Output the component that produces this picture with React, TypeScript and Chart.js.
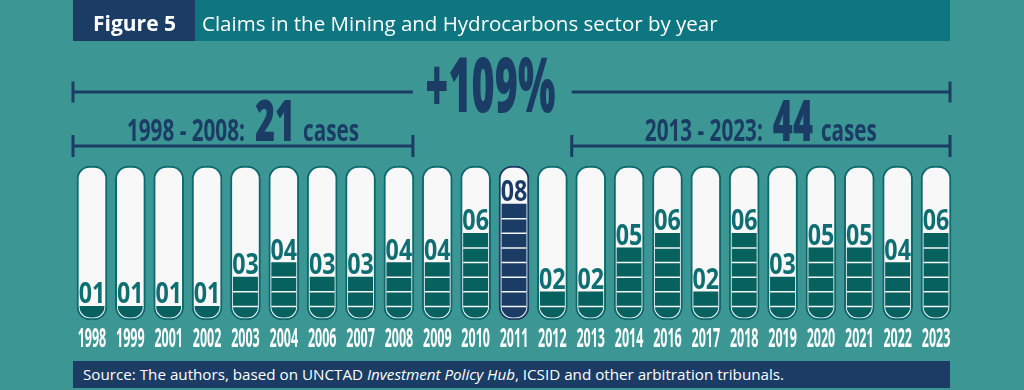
import { useEffect, useRef } from 'react';
import { Chart, registerables } from 'chart.js';

Chart.register(...registerables);

// ---------- data ----------
const YEARS = ['1998', '1999', '2001', '2002', '2003', '2004', '2006', '2007', '2008', '2009', '2010', '2011', '2012', '2013', '2014', '2016', '2017', '2018', '2019', '2020', '2021', '2022', '2023'];
const CLAIMS = [1, 1, 1, 1, 3, 4, 3, 3, 4, 4, 6, 8, 2, 2, 5, 6, 2, 6, 3, 5, 5, 4, 6];
const HIGHLIGHT_YEAR = '2011';
const PERIOD_LABELS = ['1998 - 2008:', '2013 - 2023:'];
const PERIOD_STARTS = ['1998', '2013'];
const PERIOD_ENDS = ['2008', '2023'];
const PERIOD_TOTALS = ['21', '44'];
const CHANGE_LABEL = '+109%';
const TUBE_RANGE: [number, number] = [0.07, 10.6];
const Y_MAX = 10.6;

const FIG_TAG = 'Figure 5';
const FIG_TITLE = 'Claims in the Mining and Hydrocarbons sector by year';

// ---------- styles ----------
const BG = '#3C9694';
const HEADER_TEAL = '#0D7680';
const NAVY = '#1B3D65';
const FILL = '#07615F';
const TUBE_BORDER = '#0C6A6E';
const LABEL_TEAL = '#0E6E72';
const TUBE_WHITE = '#F8F8F8';
const FONT = '"Open Sans", "Noto Sans", sans-serif';

type Run = { text: string; font: string; sx: number; gap?: number };

function drawRuns(ctx: CanvasRenderingContext2D, runs: Run[], cx: number, baseline: number, color: string) {
  const widths: number[] = [];
  let total = 0;
  runs.forEach((r, i) => {
    ctx.font = r.font;
    const w = ctx.measureText(r.text).width * r.sx;
    widths.push(w);
    total += w + (i < runs.length - 1 ? r.gap || 0 : 0);
  });
  let x = cx - total / 2;
  runs.forEach((r, i) => {
    ctx.save();
    ctx.font = r.font;
    ctx.fillStyle = color;
    ctx.textAlign = 'left';
    ctx.textBaseline = 'alphabetic';
    ctx.translate(x, baseline);
    ctx.scale(r.sx, 1);
    ctx.fillText(r.text, 0, 0);
    ctx.restore();
    x += widths[i] + (r.gap || 0);
  });
}

function hLine(ctx: CanvasRenderingContext2D, x1: number, x2: number, y: number) {
  ctx.beginPath();
  ctx.moveTo(x1, y);
  ctx.lineTo(x2, y);
  ctx.stroke();
}
function vTick(ctx: CanvasRenderingContext2D, x: number, y: number, h: number) {
  ctx.beginPath();
  ctx.moveTo(x, y - h);
  ctx.lineTo(x, y + h);
  ctx.stroke();
}

const tubePlugin = {
  id: 'tubes',
  beforeDatasetDraw(chart: any, args: any) {
    if (args.index !== 1) return;
    const ctx: CanvasRenderingContext2D = chart.ctx;
    ctx.save();
    ctx.beginPath();
    chart.getDatasetMeta(0).data.forEach((bar: any) => {
      const { x, y, base, width } = bar.getProps(['x', 'y', 'base', 'width'], true);
      const inset = 2.5;
      (ctx as any).roundRect(x - width / 2 + inset, y + inset, width - 2 * inset, base - y - 2 * inset, 11);
    });
    ctx.clip();
  },
  afterDatasetDraw(chart: any, args: any) {
    if (args.index !== 1) return;
    const ctx: CanvasRenderingContext2D = chart.ctx;
    const yScale = chart.scales.y;
    ctx.strokeStyle = '#F2F5F5';
    ctx.lineWidth = 1.5;
    chart.getDatasetMeta(1).data.forEach((bar: any, i: number) => {
      const { x, width } = bar.getProps(['x', 'width'], true);
      for (let k = 1; k < CLAIMS[i]; k++) {
        const yy = yScale.getPixelForValue(k);
        hLine(ctx, x - width / 2, x + width / 2, yy);
      }
    });
    ctx.restore();
  },
  afterDraw(chart: any) {
    const ctx: CanvasRenderingContext2D = chart.ctx;
    const xs = chart.scales.x;
    const ys = chart.scales.y;
    const px = (year: string) => xs.getPixelForValue(YEARS.indexOf(year));

    // value labels
    CLAIMS.forEach((v, i) => {
      const x = xs.getPixelForValue(i);
      const top = ys.getPixelForValue(v);
      const color = YEARS[i] === HIGHLIGHT_YEAR ? NAVY : LABEL_TEAL;
      drawRuns(ctx, [{ text: String(v).padStart(2, '0'), font: `700 28px ${FONT}`, sx: 0.83 }], x, top - 3, color);
    });

    // year labels
    YEARS.forEach((y, i) => {
      const x = xs.getPixelForValue(i);
      drawRuns(ctx, [{ text: y, font: `700 26px ${FONT}`, sx: 0.48 }], x, 347, '#FFFFFF');
    });

    // brackets
    ctx.save();
    ctx.strokeStyle = NAVY;
    ctx.lineWidth = 3;
    ctx.lineCap = 'butt';
    const segs = PERIOD_STARTS.map((s, k) => [px(s) - 19, px(PERIOD_ENDS[k]) + 14]);
    const topY = 92;
    hLine(ctx, segs[0][0], segs[0][1], topY);
    hLine(ctx, segs[1][0], segs[1][1], topY);
    vTick(ctx, segs[0][0], topY, 10.5);
    vTick(ctx, segs[1][1], topY, 10.5);
    const pY = 146;
    segs.forEach(([a, b]) => {
      hLine(ctx, a, b, pY);
      vTick(ctx, a, pY, 11);
      vTick(ctx, b, pY, 11);
    });
    ctx.restore();

    // +109%
    const midX = (segs[0][1] + segs[1][0]) / 2 - 2;
    drawRuns(ctx, [{ text: CHANGE_LABEL, font: `800 76px ${FONT}`, sx: 0.52 }], midX, 112, NAVY);

    // period texts
    segs.forEach(([a, b], k) => {
      drawRuns(
        ctx,
        [
          { text: PERIOD_LABELS[k], font: `700 30px ${FONT}`, sx: 0.69, gap: 10 },
          { text: PERIOD_TOTALS[k], font: `800 57px ${FONT}`, sx: 0.6, gap: 8 },
          { text: 'cases', font: `700 30px ${FONT}`, sx: 0.69 },
        ],
        (a + b) / 2,
        141,
        NAVY
      );
    });
  },
};

export default function App() {
  const ref = useRef<HTMLCanvasElement>(null);

  useEffect(() => {
    const canvas = ref.current;
    if (!canvas) return;
    const chart = new Chart(canvas, {
      type: 'bar',
      data: {
        labels: YEARS,
        datasets: [
          {
            label: 'Capacity',
            data: YEARS.map(() => TUBE_RANGE) as any,
            backgroundColor: TUBE_WHITE,
            borderColor: YEARS.map((y) => (y === HIGHLIGHT_YEAR ? NAVY : TUBE_BORDER)),
            borderWidth: 2,
            borderRadius: 13,
            borderSkipped: false,
            barThickness: 30,
            grouped: false,
            order: 2,
            clip: false as any,
          } as any,
          {
            label: 'Claims',
            data: CLAIMS,
            backgroundColor: YEARS.map((y) => (y === HIGHLIGHT_YEAR ? NAVY : FILL)),
            borderWidth: 0,
            barThickness: 30,
            grouped: false,
            order: 1,
            clip: false as any,
          } as any,
        ],
      },
      options: {
        responsive: false,
        animation: false,
        events: [],
        layout: { padding: { left: 72.8, right: 68.8, top: 166, bottom: 69 } },
        scales: {
          x: { display: false, offset: true },
          y: { display: false, min: 0, max: Y_MAX },
        },
        plugins: { legend: { display: false }, tooltip: { enabled: false } },
      },
      plugins: [tubePlugin as any],
    });
    return () => chart.destroy();
  }, []);

  return (
    <div
      style={{
        position: 'fixed',
        left: 0,
        top: 0,
        width: 1024,
        height: 390,
        background: BG,
        overflow: 'hidden',
        fontFamily: FONT,
      }}
    >
      <canvas ref={ref} width={1024} height={390} style={{ position: 'absolute', left: 0, top: 0, display: 'block' }} />
      <div style={{ position: 'absolute', left: 73, top: 0, width: 877, height: 41, background: HEADER_TEAL }}>
        <div style={{ position: 'absolute', left: 0, top: 0, width: 122, height: 41, background: NAVY }} />
        <div
          style={{
            position: 'absolute',
            left: 20,
            top: 3,
            lineHeight: '41px',
            fontSize: 21,
            fontWeight: 700,
            color: '#fff',
            whiteSpace: 'nowrap',
          }}
        >
          {FIG_TAG}
        </div>
        <div
          style={{
            position: 'absolute',
            left: 129,
            top: 3,
            lineHeight: '41px',
            fontSize: 20.5,
            fontWeight: 400,
            color: '#fff',
            whiteSpace: 'nowrap',
          }}
        >
          {FIG_TITLE}
        </div>
      </div>
      <div style={{ position: 'absolute', left: 73, top: 361, width: 877, height: 27, background: NAVY }}>
        <div
          style={{
            position: 'absolute',
            left: 10,
            top: 0,
            lineHeight: '27px',
            fontSize: 15.2,
            color: '#fff',
            whiteSpace: 'nowrap',
          }}
        >
          Source: The authors, based on UNCTAD <i>Investment Policy Hub</i>, ICSID and other arbitration tribunals.
        </div>
      </div>
    </div>
  );
}
